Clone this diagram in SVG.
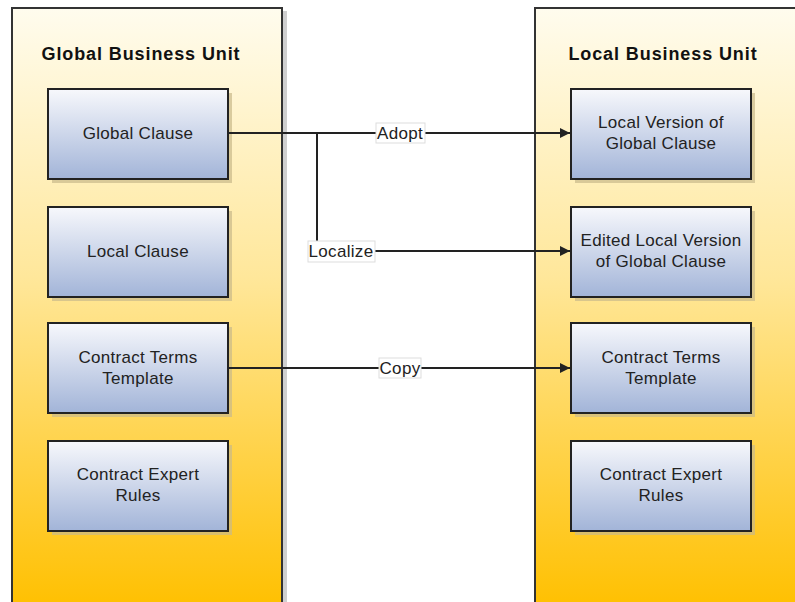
<svg xmlns="http://www.w3.org/2000/svg" width="795" height="602" viewBox="0 0 795 602">
<defs>
<linearGradient id="gold" x1="0" y1="0" x2="0" y2="1">
<stop offset="0" stop-color="#fffcee"/>
<stop offset="0.45" stop-color="#ffe79a"/>
<stop offset="1" stop-color="#ffc000"/>
</linearGradient>
<linearGradient id="blue" x1="0" y1="0" x2="0" y2="1">
<stop offset="0" stop-color="#f7f8fc"/>
<stop offset="1" stop-color="#a2b4d8"/>
</linearGradient>
<marker id="arr" viewBox="0 0 10 10" refX="10" refY="5" markerWidth="11" markerHeight="10" markerUnits="userSpaceOnUse" orient="auto">
<path d="M0,0 L10,5 L0,10 z" fill="#222"/>
</marker>
</defs>
<style>
.cont{fill:url(#gold);stroke:#333;stroke-width:2}
.cshadow{fill:#cfcfcf}
.node{fill:url(#blue);stroke:#222;stroke-width:2}
.nshadow{fill:#c9b98a;opacity:0.7}
.title{font-family:"Liberation Sans",Arial,sans-serif;font-weight:bold;font-size:18px;letter-spacing:0.9px;fill:#111;text-anchor:middle}
.lbl{font-family:"Liberation Sans",Arial,sans-serif;font-size:17px;letter-spacing:0.3px;fill:#222;text-anchor:middle}
.conn{fill:none;stroke:#222;stroke-width:2}
.tag{fill:#fff;stroke:#ddd;stroke-width:1}
</style>
<rect width="795" height="602" fill="#fff"/>
<g id="global-unit">
<rect class="cshadow" x="15" y="11" width="272" height="600"/>
<rect class="cont" x="12" y="8" width="270" height="600"/>
<text class="title" x="141" y="60">Global Business Unit</text>
</g>
<g id="local-unit">
<rect class="cshadow" x="538" y="11" width="270" height="600"/>
<rect class="cont" x="535" y="8" width="270" height="600"/>
<text class="title" x="663" y="60">Local Business Unit</text>
</g>
<g id="global-clause">
<rect class="nshadow" x="52" y="93" width="180" height="90"/>
<rect class="node" x="48" y="89" width="180" height="90"/>
<text class="lbl" x="138" y="139">Global Clause</text>
</g>
<g id="local-clause">
<rect class="nshadow" x="52" y="211" width="180" height="90"/>
<rect class="node" x="48" y="207" width="180" height="90"/>
<text class="lbl" x="138" y="257">Local Clause</text>
</g>
<g id="g-contract-terms">
<rect class="nshadow" x="52" y="327" width="180" height="90"/>
<rect class="node" x="48" y="323" width="180" height="90"/>
<text class="lbl" x="138" y="363">Contract Terms</text>
<text class="lbl" x="138" y="384">Template</text>
</g>
<g id="g-expert-rules">
<rect class="nshadow" x="52" y="445" width="180" height="90"/>
<rect class="node" x="48" y="441" width="180" height="90"/>
<text class="lbl" x="138" y="480">Contract Expert</text>
<text class="lbl" x="138" y="501">Rules</text>
</g>
<g id="local-version">
<rect class="nshadow" x="575" y="93" width="180" height="90"/>
<rect class="node" x="571" y="89" width="180" height="90"/>
<text class="lbl" x="661" y="128">Local Version of</text>
<text class="lbl" x="661" y="149">Global Clause</text>
</g>
<g id="edited-local-version">
<rect class="nshadow" x="575" y="211" width="180" height="90"/>
<rect class="node" x="571" y="207" width="180" height="90"/>
<text class="lbl" x="661" y="246">Edited Local Version</text>
<text class="lbl" x="661" y="267">of Global Clause</text>
</g>
<g id="l-contract-terms">
<rect class="nshadow" x="575" y="327" width="180" height="90"/>
<rect class="node" x="571" y="323" width="180" height="90"/>
<text class="lbl" x="661" y="363">Contract Terms</text>
<text class="lbl" x="661" y="384">Template</text>
</g>
<g id="l-expert-rules">
<rect class="nshadow" x="575" y="445" width="180" height="90"/>
<rect class="node" x="571" y="441" width="180" height="90"/>
<text class="lbl" x="661" y="480">Contract Expert</text>
<text class="lbl" x="661" y="501">Rules</text>
</g>
<g id="connectors">
<path class="conn" d="M228,133 H570" marker-end="url(#arr)"/>
<path class="conn" d="M317,133 V251 H570" marker-end="url(#arr)"/>
<path class="conn" d="M228,368 H570" marker-end="url(#arr)"/>
<rect class="tag" x="376" y="123" width="49" height="20"/>
<text class="lbl" x="400" y="139">Adopt</text>
<rect class="tag" x="308" y="241" width="67" height="21"/>
<text class="lbl" x="341" y="257">Localize</text>
<rect class="tag" x="379" y="358" width="42" height="20"/>
<text class="lbl" x="400" y="374">Copy</text>
</g>
</svg>
